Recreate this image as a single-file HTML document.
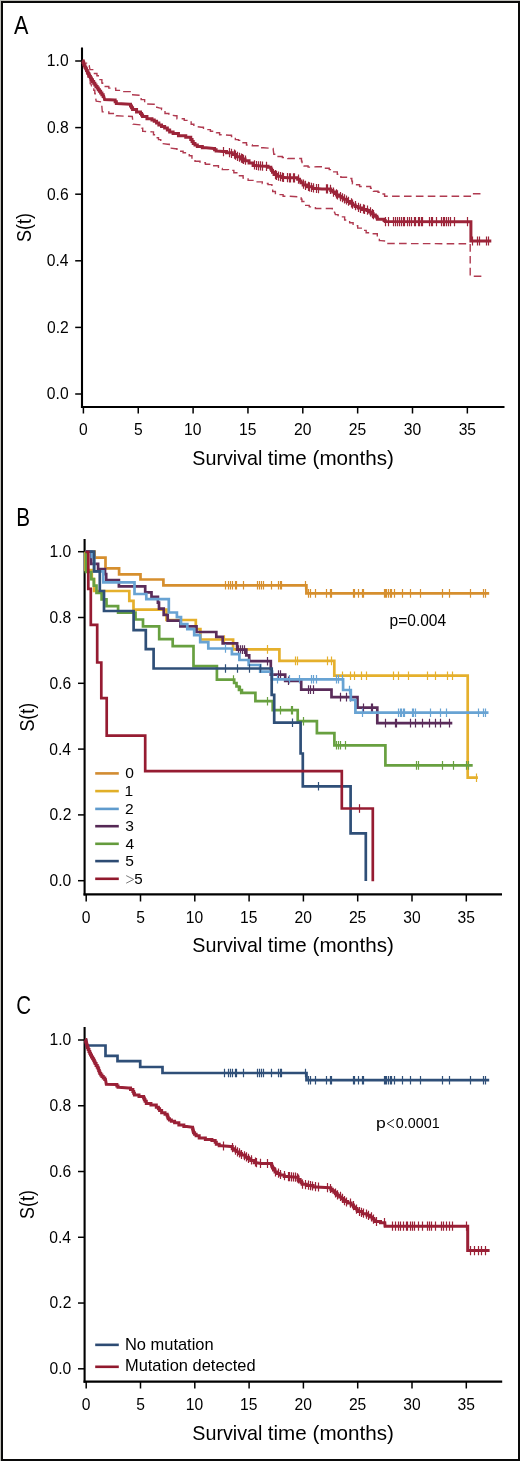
<!DOCTYPE html>
<html><head><meta charset="utf-8"><style>
html,body{margin:0;padding:0;background:#fff;}
body{width:520px;height:1461px;overflow:hidden;}
svg{display:block;will-change:transform;}
text{font-family:"Liberation Sans", sans-serif;fill:#000;}
</style></head><body>
<svg width="520" height="1461" viewBox="0 0 520 1461">
<rect x="0" y="0" width="520" height="1461" fill="#fff"/>
<rect x="0" y="0" width="520" height="1" fill="#bfbfba"/>
<rect x="0" y="0" width="1" height="1461" fill="#bfbfba"/>
<rect x="2" y="2" width="517" height="1458" fill="none" stroke="#0a0a0a" stroke-width="2"/>
<path d="M82.00 47.50 V408.05" stroke="#000" stroke-width="2.1" fill="none"/>
<path d="M80.95 407.00 H504.50" stroke="#000" stroke-width="2.1" fill="none"/>
<path d="M75.20 394.00 H82.00" stroke="#000" stroke-width="1.5" fill="none"/>
<path d="M75.20 327.40 H82.00" stroke="#000" stroke-width="1.5" fill="none"/>
<path d="M75.20 260.80 H82.00" stroke="#000" stroke-width="1.5" fill="none"/>
<path d="M75.20 194.20 H82.00" stroke="#000" stroke-width="1.5" fill="none"/>
<path d="M75.20 127.60 H82.00" stroke="#000" stroke-width="1.5" fill="none"/>
<path d="M75.20 61.00 H82.00" stroke="#000" stroke-width="1.5" fill="none"/>
<path d="M83.40 407.00 V413.50" stroke="#000" stroke-width="1.5" fill="none"/>
<path d="M138.25 407.00 V413.50" stroke="#000" stroke-width="1.5" fill="none"/>
<path d="M193.10 407.00 V413.50" stroke="#000" stroke-width="1.5" fill="none"/>
<path d="M247.95 407.00 V413.50" stroke="#000" stroke-width="1.5" fill="none"/>
<path d="M302.80 407.00 V413.50" stroke="#000" stroke-width="1.5" fill="none"/>
<path d="M357.65 407.00 V413.50" stroke="#000" stroke-width="1.5" fill="none"/>
<path d="M412.50 407.00 V413.50" stroke="#000" stroke-width="1.5" fill="none"/>
<path d="M467.35 407.00 V413.50" stroke="#000" stroke-width="1.5" fill="none"/>
<path d="M84.60 539.00 V895.45" stroke="#000" stroke-width="2.1" fill="none"/>
<path d="M83.55 894.40 H502.00" stroke="#000" stroke-width="2.1" fill="none"/>
<path d="M78.00 880.70 H84.60" stroke="#000" stroke-width="1.5" fill="none"/>
<path d="M78.00 814.90 H84.60" stroke="#000" stroke-width="1.5" fill="none"/>
<path d="M78.00 749.10 H84.60" stroke="#000" stroke-width="1.5" fill="none"/>
<path d="M78.00 683.30 H84.60" stroke="#000" stroke-width="1.5" fill="none"/>
<path d="M78.00 617.50 H84.60" stroke="#000" stroke-width="1.5" fill="none"/>
<path d="M78.00 551.70 H84.60" stroke="#000" stroke-width="1.5" fill="none"/>
<path d="M86.20 894.40 V901.50" stroke="#000" stroke-width="1.5" fill="none"/>
<path d="M140.50 894.40 V901.50" stroke="#000" stroke-width="1.5" fill="none"/>
<path d="M194.80 894.40 V901.50" stroke="#000" stroke-width="1.5" fill="none"/>
<path d="M249.10 894.40 V901.50" stroke="#000" stroke-width="1.5" fill="none"/>
<path d="M303.40 894.40 V901.50" stroke="#000" stroke-width="1.5" fill="none"/>
<path d="M357.70 894.40 V901.50" stroke="#000" stroke-width="1.5" fill="none"/>
<path d="M412.00 894.40 V901.50" stroke="#000" stroke-width="1.5" fill="none"/>
<path d="M466.30 894.40 V901.50" stroke="#000" stroke-width="1.5" fill="none"/>
<path d="M84.60 1027.10 V1382.65" stroke="#000" stroke-width="2.1" fill="none"/>
<path d="M83.55 1381.60 H502.20" stroke="#000" stroke-width="2.1" fill="none"/>
<path d="M78.00 1368.80 H84.60" stroke="#000" stroke-width="1.5" fill="none"/>
<path d="M78.00 1303.04 H84.60" stroke="#000" stroke-width="1.5" fill="none"/>
<path d="M78.00 1237.28 H84.60" stroke="#000" stroke-width="1.5" fill="none"/>
<path d="M78.00 1171.52 H84.60" stroke="#000" stroke-width="1.5" fill="none"/>
<path d="M78.00 1105.76 H84.60" stroke="#000" stroke-width="1.5" fill="none"/>
<path d="M78.00 1040.00 H84.60" stroke="#000" stroke-width="1.5" fill="none"/>
<path d="M86.20 1381.60 V1388.50" stroke="#000" stroke-width="1.5" fill="none"/>
<path d="M140.50 1381.60 V1388.50" stroke="#000" stroke-width="1.5" fill="none"/>
<path d="M194.80 1381.60 V1388.50" stroke="#000" stroke-width="1.5" fill="none"/>
<path d="M249.10 1381.60 V1388.50" stroke="#000" stroke-width="1.5" fill="none"/>
<path d="M303.40 1381.60 V1388.50" stroke="#000" stroke-width="1.5" fill="none"/>
<path d="M357.70 1381.60 V1388.50" stroke="#000" stroke-width="1.5" fill="none"/>
<path d="M412.00 1381.60 V1388.50" stroke="#000" stroke-width="1.5" fill="none"/>
<path d="M466.30 1381.60 V1388.50" stroke="#000" stroke-width="1.5" fill="none"/>
<path d="M95.2 773.40 H118.8" stroke="#d28c32" stroke-width="2.6" fill="none"/>
<path d="M95.2 791.10 H118.8" stroke="#e1af28" stroke-width="2.6" fill="none"/>
<path d="M95.2 808.90 H118.8" stroke="#5f9bcd" stroke-width="2.6" fill="none"/>
<path d="M95.2 826.20 H118.8" stroke="#552855" stroke-width="2.6" fill="none"/>
<path d="M95.2 843.80 H118.8" stroke="#649b3c" stroke-width="2.6" fill="none"/>
<path d="M95.2 861.10 H118.8" stroke="#2d4b73" stroke-width="2.6" fill="none"/>
<path d="M95.2 878.80 H118.8" stroke="#91192d" stroke-width="2.6" fill="none"/>
<path d="M126.2 875.60 L133.7 879.40 L126.2 883.20" stroke="#6a6a6a" stroke-width="0.9" fill="none"/>
<path d="M394.0 1119.4 L387.2 1123.6 L394.0 1127.7" stroke="#222" stroke-width="1.0" fill="none"/>
<path d="M95.2 1344.85 H118.8" stroke="#2d4b73" stroke-width="2.6" fill="none"/>
<path d="M95.2 1366.8 H118.8" stroke="#91192d" stroke-width="2.6" fill="none"/>
<g fill="none" stroke="#9c2439">
<path d="M82.30 60.40H84.03V63.10H87.47V65.80H89.20L90.00 69.60H92.70V73.50H95.40H96.95V75.80H98.50H100.00V79.60H101.50H101.88V83.05H102.62V86.50H103.00H108.80V88.10H114.60H115.75V90.40H116.90H123.85V91.60H130.80H131.55V94.70H132.30L139.20 95.30H141.15V99.60H143.10H144.65V103.90H146.20L153.80 104.20H155.35V107.30H156.90L160.00 108.10H161.55V109.60H163.10H165.00V113.50H166.90H168.85V115.00H170.80L175.40 115.80H176.95V118.80H178.50H184.25V120.40H190.00H191.15V124.20H192.30H193.85V126.50H195.40L201.50 127.30H203.45V129.60H205.40H210.40V131.20H215.40H216.55V132.70H217.70H219.60V134.70H221.50L229.20 135.30H231.50V136.50H233.80H235.35V139.60H236.90H238.45V140.40H240.00H241.90V142.70H243.80H246.50V145.00H249.20H252.30V145.80H255.40H259.25V147.80H263.10L273.10 148.40L273.80 154.20H276.15V156.50H278.50H282.35V157.50H286.20H287.90V158.50H289.60L301.20 158.50H301.48V161.10H302.02V163.70H302.30H304.05V166.00H305.80H308.10V167.10H310.40L316.90 166.80H322.30V168.30H327.70H329.25V169.60H330.80H332.70V171.90H334.60H337.30V174.20H340.00H340.85V177.30H341.70L346.90 177.30H349.20V178.50H351.50H351.80V181.10H352.40V183.70H352.70H355.00V184.80H357.30H359.60V186.50H361.90L368.80 186.50H370.55V188.30H372.30H373.45V191.20H374.60H378.05V192.30H381.50H382.10V194.00H382.70H384.60V196.20H386.50L471.20 196.30L471.20 193.80L484.60 193.80" stroke="#b03a50" stroke-width="1.4" stroke-dasharray="7.6 4.3"/>
<path d="M83.10 62.70H83.62V65.27H84.65V67.83H85.68V70.40H86.20H86.78V73.68H87.92V76.95H89.08V80.22H90.22V83.50H90.80L91.50 85.80H92.28V88.10H93.82V90.40H94.60H94.80V93.45H95.20V96.50H95.40L96.20 101.20L101.50 101.90L102.30 111.90H108.85V113.50H115.40H116.15V115.80H116.90L132.30 116.50L133.10 124.20L141.50 125.00H141.90V128.10H142.70V131.20H143.10L152.30 131.90H153.48V134.80H155.82V137.70H157.00H158.50V139.60H160.00H160.75V143.50H161.50L167.70 144.20H169.25V148.10H170.80L175.40 148.80H176.95V151.20H178.50H183.10V152.70H187.70H189.25V155.80H190.80H191.95V159.60H193.10H195.00V161.20H196.90H200.00V162.70H203.10H205.40V164.20H207.70H212.30V165.80H216.90H218.45V168.50H220.00H222.30V169.60H224.60H228.45V170.40H232.30H233.85V172.70H235.40H237.70V175.80H240.00H243.10V178.10H246.20H248.10V180.40H250.00H255.00V181.90H260.00H262.30V183.50H264.60H268.05V184.60H271.50H271.90V188.05H272.70V191.50H273.10H275.40V194.60H277.70H283.10V196.20H288.50L300.80 196.90H301.18V199.20H301.93V201.50H302.30H303.85V205.40H305.40H309.25V206.90H313.10H315.40V208.50H317.70L330.00 208.50H332.30V212.30H334.60L335.40 214.60H338.10V216.90H340.80H344.65V220.00H348.50H349.65V222.70H350.80H353.10V225.80H355.40H357.70V228.10H360.00H362.30V230.40H364.60H366.15V232.70H367.70H368.45V233.70H369.20L376.70 233.70H377.30V237.70H377.90H379.35V240.60H380.80L386.50 241.20H387.95V243.50H389.40L470.20 243.80L470.20 276.20L484.60 276.20" stroke="#b03a50" stroke-width="1.4" stroke-dasharray="7.6 4.3"/>
<path d="M82.80 61.00H83.10V62.60H83.70V64.20H84.30V65.80H84.60H84.99V67.33H85.76V68.85H86.54V70.38H87.31V71.90H87.70H88.09V73.45H88.86V75.00H89.64V76.55H90.41V78.10H90.80H91.38V79.82H92.53V81.55H93.67V83.28H94.83V85.00H95.40H95.98V86.55H97.12V88.10H98.28V89.65H99.42V91.20H100.00H100.63V92.97H101.90V94.73H103.17V96.50H103.80L104.60 99.60L114.60 100.10H115.17V101.80H116.33V103.50H116.90L130.00 104.20H130.52V106.00H131.55V107.80H132.58V109.60H133.10H136.55V111.90H140.00H140.52V113.43H141.55V114.97H142.58V116.50H143.10H146.95V118.80H150.80H151.95V120.00H154.25V121.20H155.40H156.55V123.10H158.85V125.00H160.00H161.55V126.55H164.65V128.10H166.20H167.35V130.00H169.65V131.90H170.80H173.10V133.50H175.40H178.45V135.80H181.50H185.75V137.30H190.00H190.75V139.60H191.50H192.07V141.55H193.23V143.50H193.80H194.98V145.00H197.32V146.50H198.50H202.35V147.80H206.20L213.80 148.50H214.58V149.75H216.12V151.00H216.90L223.10 151.50H226.55V152.70H230.00H232.30V154.40H234.60H236.35V156.70H238.10H240.40V159.00H242.70H245.00V160.80H247.30H249.05V163.10H250.80H253.10V165.40H255.40L261.20 166.00L265.80 166.30H268.10V167.20H270.40H270.82V168.90H271.65V170.60H272.48V172.30H272.90H274.05V174.60H275.20H277.20V176.30H279.20H281.50V177.50H283.80L288.50 177.80L296.50 177.80H297.65V179.20H298.80H299.52V180.95H300.98V182.70H301.70H303.15V185.00H304.60H306.90V186.70H309.20H312.70V188.50H316.20L321.90 189.00L329.60 188.90H330.75V190.60H331.90H332.77V192.05H334.52V193.50H335.40H336.55V194.90H338.85V196.30H340.00H341.15V197.75H343.45V199.20H344.60H346.90V201.50H349.20H350.35V203.25H352.65V205.00H353.80H355.25V206.45H358.15V207.90H359.60H362.50V209.60H365.40H366.95V210.60H368.50H369.35V212.05H371.05V213.50H371.90H373.05V214.90H375.35V216.30H376.50H376.80V217.75H377.40V219.20H377.70L383.50 219.20H384.07V220.40H385.23V221.60H385.80L470.90 221.70L470.90 241.00L491.30 241.00" stroke-width="3.0"/>
<path d="M223.5 147.0V156.2M229.5 148.0V157.2M231.5 148.7V157.9M234.5 149.6V158.8M235.5 150.6V159.8M237.5 151.7V160.9M239.5 152.7V161.8M241.5 153.6V162.8M242.5 154.1V163.3M243.5 154.8V164.0M245.5 155.5V164.7M254.5 160.2V169.4M256.5 160.9V170.1M258.5 161.2V170.4M260.5 161.3V170.5M262.5 161.5V170.7M266.5 161.8V171.0M275.5 170.0V179.2M276.5 170.7V179.9M278.5 171.5V180.7M280.5 172.0V181.2M282.5 172.5V181.7M283.5 172.9V182.1M287.5 173.1V182.3M289.5 173.2V182.4M290.5 173.2V182.4M293.5 173.2V182.4M294.5 173.2V182.4M298.5 174.6V183.8M303.5 179.5V188.7M305.5 180.8V190.0M308.5 181.7V190.9M309.5 182.3V191.5M311.5 182.7V191.9M313.5 183.2V192.4M316.5 183.9V193.1M318.5 184.1V193.3M326.5 184.3V193.5M327.5 184.3V193.5M330.5 184.7V193.9M333.5 187.5V196.7M336.5 189.3V198.5M337.5 190.3V199.5M340.5 192.1V201.3M342.5 193.2V202.3M344.5 194.2V203.4M346.5 195.4V204.6M348.5 196.7V205.8M351.5 198.3V207.5M352.5 199.6V208.8M355.5 201.0V210.2M358.5 202.8V211.9M360.5 203.7V212.9M363.5 204.3V213.5M364.5 204.8V214.0M367.5 205.5V214.7M370.5 207.3V216.5M372.5 209.1V218.3M373.5 210.0V219.2M385.5 217.0V226.2M388.5 217.0V226.2M393.5 217.0V226.2M395.5 217.0V226.2M397.5 217.0V226.2M399.5 217.0V226.2M401.5 217.0V226.2M403.5 217.0V226.2M404.5 217.0V226.2M407.5 217.0V226.2M409.5 217.0V226.2M411.5 217.0V226.2M414.5 217.0V226.2M415.5 217.0V226.2M418.5 217.0V226.2M419.5 217.0V226.2M421.5 217.0V226.2M422.5 217.0V226.2M429.5 217.1V226.3M431.5 217.1V226.3M432.5 217.1V226.3M436.5 217.1V226.3M441.5 217.1V226.3M443.5 217.1V226.3M444.5 217.1V226.3M446.5 217.1V226.3M448.5 217.1V226.3M450.5 217.1V226.3M454.5 217.1V226.3M467.5 217.1V226.3M472.5 236.4V245.6M477.5 236.4V245.6M479.5 236.4V245.6M486.5 236.4V245.6M488.5 236.4V245.6" stroke-width="1.2"/>
</g>
<path d="M85.6 551.7H94.5V557.7H105.5V568.4H119.1V574.4H140.5V579.5H163.4V585.3H306.4V593.4H489.2" stroke="#d68f2e" stroke-width="2.7" fill="none" stroke-linejoin="miter"/>
<path d="M225.5 581.0V589.6M228.5 581.0V589.6M230.5 581.0V589.6M232.5 581.0V589.6M235.5 581.0V589.6M236.5 581.0V589.6M243.5 581.0V589.6M257.5 581.0V589.6M259.5 581.0V589.6M261.5 581.0V589.6M263.5 581.0V589.6M271.5 581.0V589.6M278.5 581.0V589.6M280.5 581.0V589.6M281.5 581.0V589.6M305.5 581.0V589.6M308.5 589.1V597.7M310.5 589.1V597.7M315.5 589.1V597.7M326.5 589.1V597.7M330.5 589.1V597.7M331.5 589.1V597.7M353.5 589.1V597.7M354.5 589.1V597.7M358.5 589.1V597.7M362.5 589.1V597.7M363.5 589.1V597.7M384.5 589.1V597.7M385.5 589.1V597.7M386.5 589.1V597.7M388.5 589.1V597.7M390.5 589.1V597.7M391.5 589.1V597.7M394.5 589.1V597.7M402.5 589.1V597.7M410.5 589.1V597.7M420.5 589.1V597.7M442.5 589.1V597.7M449.5 589.1V597.7M470.5 589.1V597.7M483.5 589.1V597.7M485.5 589.1V597.7" stroke="#d68f2e" stroke-width="1.2" fill="none"/>
<path d="M85.4 551.7H85.4V570.0H91.8V579.0H94.1V591.0H129.3V600.8H133.5V609.7H166.5V620.0H195.8V629.2H200.4V639.5H233.1V649.4H279.4V660.9H334.3V675.7H467.7V777.7H477.9" stroke="#e5b02c" stroke-width="2.7" fill="none" stroke-linejoin="miter"/>
<path d="M224.5 635.2V643.8M267.5 645.1V653.7M295.5 656.6V665.2M297.5 656.6V665.2M327.5 656.6V665.2M331.5 656.6V665.2M342.5 671.4V680.0M350.5 671.4V680.0M354.5 671.4V680.0M361.5 671.4V680.0M366.5 671.4V680.0M393.5 671.4V680.0M398.5 671.4V680.0M408.5 671.4V680.0M427.5 671.4V680.0M435.5 671.4V680.0M447.5 671.4V680.0M452.5 671.4V680.0M476.5 773.4V782.0" stroke="#e5b02c" stroke-width="1.2" fill="none"/>
<path d="M85.6 551.7H91.2V563.8H98.1V569.0H105.0V574.2H106.2V580.0H118.9V586.3H145.2V592.3H151.5V596.9H157.9V602.7H159.0V608.7H163.7V614.8H167.7V620.6H180.4V626.3H196.5V632.0H216.3V636.9H222.7V643.3H237.1V649.6H246.3V655.4H249.2V661.2H270.8V674.6H285.2V680.8H301.2V689.6H331.5V697.1H357.5V707.7H377.3V723.1H452.3" stroke="#5a2c5a" stroke-width="2.7" fill="none" stroke-linejoin="miter"/>
<path d="M238.5 645.3V653.9M240.5 645.3V653.9M242.5 645.3V653.9M244.5 645.3V653.9M267.5 656.9V665.5M278.5 670.3V678.9M280.5 670.3V678.9M288.5 676.5V685.1M308.5 685.3V693.9M310.5 685.3V693.9M313.5 685.3V693.9M340.5 692.8V701.4M346.5 692.8V701.4M350.5 692.8V701.4M363.5 703.4V712.0M371.5 703.4V712.0M372.5 703.4V712.0M385.5 718.8V727.4M395.5 718.8V727.4M396.5 718.8V727.4M410.5 718.8V727.4M415.5 718.8V727.4M422.5 718.8V727.4M429.5 718.8V727.4M435.5 718.8V727.4M440.5 718.8V727.4M449.5 718.8V727.4" stroke="#5a2c5a" stroke-width="1.2" fill="none"/>
<path d="M85.6 551.7H91.8V557.0H94.1V571.3H103.3V582.3H134.5V594.0H146.3V599.2H168.8V612.5H176.9V617.1H181.0V624.0H187.3V629.2H194.2V635.2H200.2V642.1H208.3V648.5H231.9V654.2H239.4V660.0H248.7V665.0H260.2V671.7H272.0V679.3H343.1V690.0H350.8V700.0H355.4V712.7H488.5" stroke="#68a3d3" stroke-width="2.7" fill="none" stroke-linejoin="miter"/>
<path d="M225.5 644.2V652.8M277.5 675.0V683.6M289.5 675.0V683.6M299.5 675.0V683.6M311.5 675.0V683.6M313.5 675.0V683.6M316.5 675.0V683.6M336.5 675.0V683.6M338.5 675.0V683.6M342.5 675.0V683.6M349.5 685.7V694.3M362.5 708.4V717.0M398.5 708.4V717.0M400.5 708.4V717.0M401.5 708.4V717.0M403.5 708.4V717.0M404.5 708.4V717.0M412.5 708.4V717.0M413.5 708.4V717.0M415.5 708.4V717.0M430.5 708.4V717.0M440.5 708.4V717.0M446.5 708.4V717.0M478.5 708.4V717.0M483.5 708.4V717.0M485.5 708.4V717.0" stroke="#68a3d3" stroke-width="1.2" fill="none"/>
<path d="M86.0 551.7H86.0V572.0H91.2V579.2H93.8V585.7H96.5V592.9H101.6V599.4H106.5V606.2H118.1V612.7H135.5V619.5H143.0V626.3H159.2V639.2H172.7V646.2H193.5V666.2H216.9V679.6H234.2V683.0H236.5V686.5H239.0V690.0H241.9V692.9H255.4V701.2H272.7V710.2H297.7V721.2H316.9V733.2H334.4V745.3H385.4V765.4H472.7" stroke="#68a040" stroke-width="2.7" fill="none" stroke-linejoin="miter"/>
<path d="M233.5 675.3V683.9M240.5 685.7V694.3M267.5 696.9V705.5M280.5 705.9V714.5M291.5 705.9V714.5M292.5 705.9V714.5M303.5 716.9V725.5M336.5 741.0V749.6M338.5 741.0V749.6M340.5 741.0V749.6M345.5 741.0V749.6M416.5 761.1V769.7M418.5 761.1V769.7M442.5 761.1V769.7M453.5 761.1V769.7M466.5 761.1V769.7M468.5 761.1V769.7" stroke="#68a040" stroke-width="1.2" fill="none"/>
<path d="M85.6 551.7H94.1V571.3H99.8V591.0H104.0V611.0H133.6V630.2H145.8V649.2H153.6V668.5H271.7V694.8H274.2V722.7H300.6V753.5H302.8V786.3H350.6V833.4H365.8V881.0" stroke="#2f4f78" stroke-width="2.7" fill="none" stroke-linejoin="miter"/>
<path d="M225.5 664.2V672.8M237.5 664.2V672.8M249.5 664.2V672.8M260.5 664.2V672.8M292.5 718.4V727.0M318.5 782.0V790.6" stroke="#2f4f78" stroke-width="1.2" fill="none"/>
<path d="M85.6 551.8H88.3V588.8H90.8V624.8H97.2V662.5H101.3V698.1H106.7V735.6H145.2V771.1H341.8V808.5H372.8V881.2" stroke="#961c32" stroke-width="2.7" fill="none" stroke-linejoin="miter"/>
<path d="M359.5 804.2V812.8" stroke="#961c32" stroke-width="1.2" fill="none"/>
<path d="M85.6 1040.0H86.2V1045.5H105.5V1055.9H117.5V1061.2H140.2V1067.0H162.5V1073.0H306.5V1080.2H489.2" stroke="#2f4f78" stroke-width="2.7" fill="none"/>
<path d="M224.5 1068.7V1077.3M228.5 1068.7V1077.3M230.5 1068.7V1077.3M232.5 1068.7V1077.3M235.5 1068.7V1077.3M236.5 1068.7V1077.3M243.5 1068.7V1077.3M257.5 1068.7V1077.3M259.5 1068.7V1077.3M261.5 1068.7V1077.3M263.5 1068.7V1077.3M271.5 1068.7V1077.3M278.5 1068.7V1077.3M280.5 1068.7V1077.3M281.5 1068.7V1077.3M305.5 1068.7V1077.3M308.5 1075.9V1084.5M310.5 1075.9V1084.5M315.5 1075.9V1084.5M326.5 1075.9V1084.5M330.5 1075.9V1084.5M331.5 1075.9V1084.5M353.5 1075.9V1084.5M354.5 1075.9V1084.5M358.5 1075.9V1084.5M362.5 1075.9V1084.5M363.5 1075.9V1084.5M384.5 1075.9V1084.5M385.5 1075.9V1084.5M386.5 1075.9V1084.5M388.5 1075.9V1084.5M390.5 1075.9V1084.5M391.5 1075.9V1084.5M394.5 1075.9V1084.5M402.5 1075.9V1084.5M410.5 1075.9V1084.5M420.5 1075.9V1084.5M442.5 1075.9V1084.5M449.5 1075.9V1084.5M470.5 1075.9V1084.5M483.5 1075.9V1084.5M485.5 1075.9V1084.5" stroke="#2f4f78" stroke-width="1.2" fill="none"/>
<path d="M85.50 1039.60H85.70V1041.15H86.10V1042.70H86.50V1044.25H86.90V1045.80H87.10H87.47V1047.70H88.22V1049.60H88.60H88.98V1051.40H89.75V1053.20H90.52V1055.00H90.90H91.48V1056.90H92.62V1058.80H93.20H93.58V1060.37H94.35V1061.93H95.12V1063.50H95.50H96.08V1065.40H97.22V1067.30H97.80H98.10V1068.85H98.70V1070.40H99.30V1071.95H99.90V1073.50H100.20H100.78V1075.00H101.92V1076.50H102.50H103.25V1078.05H104.75V1079.60H105.50L106.30 1084.20L116.30 1084.50H116.88V1085.90H118.02V1087.30H118.60L128.60 1088.10H130.55V1089.60H132.50H132.88V1091.40H133.65V1093.20H134.42V1095.00H134.80H139.00V1096.50H143.20H143.58V1098.07H144.35V1099.63H145.12V1101.20H145.50H146.30V1103.50H147.10H150.95V1105.00H154.80H156.30V1107.30H157.80H158.40V1108.85H159.60V1110.40H160.20H161.65V1112.70H163.10H165.00V1114.20H166.90H167.17V1115.73H167.70V1117.27H168.23V1118.80H168.50H169.45V1120.00H171.35V1121.20H172.30H174.60V1122.70H176.90H178.85V1125.00H180.80H183.85V1126.50H186.90L192.30 1127.30H192.55V1129.10H193.05V1130.90H193.55V1132.70H193.80H194.58V1134.25H196.12V1135.80H196.90H199.20V1138.10H201.50H205.35V1139.60H209.20H211.90V1140.40H214.60H215.18V1142.30H216.32V1144.20H216.90H219.20V1145.80H221.50L230.80 1146.50H232.30V1148.80H233.80H234.58V1150.15H236.12V1151.50H236.90L238.10 1151.90H239.25V1153.45H241.55V1155.00H242.70H245.00V1157.30H247.30H248.45V1158.85H250.75V1160.40H251.90H254.20V1162.70H256.50L261.20 1163.50L271.20 1163.50H271.45V1165.03H271.95V1166.57H272.45V1168.10H272.70H273.48V1170.00H275.02V1171.90H275.80H277.15V1173.45H279.85V1175.00H281.20H284.25V1176.50H287.30L296.50 1177.30H298.05V1179.60H299.60H300.12V1181.13H301.15V1182.67H302.18V1184.20H302.70H306.35V1185.40H310.00H313.10V1186.90H316.20L330.00 1187.70H330.77V1189.25H332.33V1190.80H333.10H333.88V1192.30H335.43V1193.80H336.20H337.35V1195.35H339.65V1196.90H340.80H341.57V1198.43H343.10V1199.97H344.63V1201.50H345.40H347.70V1203.10H350.00H351.15V1205.00H353.45V1206.90H354.60H355.37V1208.43H356.90V1209.97H358.43V1211.50H359.20H362.30V1213.80H365.40H366.92V1215.35H369.98V1216.90H371.50H372.28V1218.43H373.85V1219.97H375.42V1221.50H376.20H380.50V1222.70H384.80L385.10 1226.20L467.70 1226.20L467.70 1250.60L489.60 1250.60" stroke="#9a2036" stroke-width="3.0" fill="none"/>
<path d="M223.5 1141.4V1150.6M232.5 1143.1V1152.2M235.5 1145.6V1154.8M237.5 1147.2V1156.4M239.5 1148.3V1157.5M241.5 1149.9V1159.1M244.5 1151.2V1160.3M246.5 1152.3V1161.5M248.5 1153.7V1162.9M251.5 1155.3V1164.5M255.5 1157.4V1166.5M256.5 1158.1V1167.3M260.5 1158.8V1168.0M267.5 1158.9V1168.1M275.5 1167.3V1176.5M278.5 1168.6V1177.8M280.5 1169.9V1179.1M284.5 1171.1V1180.3M288.5 1172.0V1181.2M289.5 1172.1V1181.3M291.5 1172.2V1181.4M293.5 1172.4V1181.6M295.5 1172.6V1181.8M297.5 1173.3V1182.5M298.5 1174.4V1183.6M302.5 1179.6V1188.8M305.5 1180.1V1189.3M308.5 1180.6V1189.8M310.5 1181.0V1190.2M312.5 1181.4V1190.6M315.5 1182.1V1191.3M318.5 1182.4V1191.6M327.5 1183.0V1192.2M330.5 1183.9V1193.1M335.5 1188.4V1197.6M337.5 1190.2V1199.4M340.5 1191.8V1201.0M342.5 1193.8V1203.0M344.5 1196.1V1205.3M346.5 1197.4V1206.6M350.5 1198.5V1207.7M353.5 1201.1V1210.3M356.5 1204.6V1213.8M359.5 1206.9V1216.1M361.5 1207.8V1217.0M363.5 1208.6V1217.8M366.5 1209.6V1218.8M368.5 1210.8V1220.0M371.5 1212.3V1221.5M373.5 1214.6V1223.8M376.5 1216.9V1226.1M384.5 1218.1V1227.3M392.5 1221.6V1230.8M395.5 1221.6V1230.8M398.5 1221.6V1230.8M400.5 1221.6V1230.8M403.5 1221.6V1230.8M406.5 1221.6V1230.8M407.5 1221.6V1230.8M410.5 1221.6V1230.8M412.5 1221.6V1230.8M414.5 1221.6V1230.8M418.5 1221.6V1230.8M422.5 1221.6V1230.8M427.5 1221.6V1230.8M429.5 1221.6V1230.8M431.5 1221.6V1230.8M435.5 1221.6V1230.8M441.5 1221.6V1230.8M443.5 1221.6V1230.8M446.5 1221.6V1230.8M449.5 1221.6V1230.8M452.5 1221.6V1230.8M466.5 1221.6V1230.8M470.5 1246.0V1255.2M474.5 1246.0V1255.2M478.5 1246.0V1255.2M481.5 1246.0V1255.2M485.5 1246.0V1255.2" stroke="#9a2036" stroke-width="1.2" fill="none"/>
<text x="46.84" y="399.40" font-size="16.4" textLength="21.77" lengthAdjust="spacingAndGlyphs">0.0</text>
<text x="47.02" y="332.80" font-size="16.4" textLength="21.77" lengthAdjust="spacingAndGlyphs">0.2</text>
<text x="46.69" y="266.20" font-size="16.4" textLength="21.77" lengthAdjust="spacingAndGlyphs">0.4</text>
<text x="46.92" y="199.60" font-size="16.4" textLength="21.77" lengthAdjust="spacingAndGlyphs">0.6</text>
<text x="46.91" y="133.00" font-size="16.4" textLength="21.77" lengthAdjust="spacingAndGlyphs">0.8</text>
<text x="46.84" y="66.40" font-size="16.4" textLength="21.77" lengthAdjust="spacingAndGlyphs">1.0</text>
<text x="79.04" y="434.90" font-size="16.4" textLength="8.71" lengthAdjust="spacingAndGlyphs">0</text>
<text x="133.91" y="434.90" font-size="16.4" textLength="8.71" lengthAdjust="spacingAndGlyphs">5</text>
<text x="184.10" y="434.90" font-size="16.4" textLength="17.42" lengthAdjust="spacingAndGlyphs">10</text>
<text x="238.97" y="434.90" font-size="16.4" textLength="17.42" lengthAdjust="spacingAndGlyphs">15</text>
<text x="294.00" y="434.90" font-size="16.4" textLength="17.42" lengthAdjust="spacingAndGlyphs">20</text>
<text x="348.87" y="434.90" font-size="16.4" textLength="17.42" lengthAdjust="spacingAndGlyphs">25</text>
<text x="403.80" y="434.90" font-size="16.4" textLength="17.42" lengthAdjust="spacingAndGlyphs">30</text>
<text x="458.67" y="434.90" font-size="16.4" textLength="17.42" lengthAdjust="spacingAndGlyphs">35</text>
<text x="192.30" y="464.80" font-size="20.9" textLength="70.11" lengthAdjust="spacingAndGlyphs">Survival</text>
<text x="267.79" y="464.80" font-size="20.9" textLength="38.93" lengthAdjust="spacingAndGlyphs">time</text>
<text x="312.52" y="464.80" font-size="20.9" textLength="81.46" lengthAdjust="spacingAndGlyphs">(months)</text>
<g transform="translate(31.10,241.20) rotate(-90)"><text x="-0.82" y="0" font-size="19.8" textLength="28.93" lengthAdjust="spacingAndGlyphs">S(t)</text></g>
<text x="49.44" y="886.10" font-size="16.4" textLength="21.77" lengthAdjust="spacingAndGlyphs">0.0</text>
<text x="49.62" y="820.30" font-size="16.4" textLength="21.77" lengthAdjust="spacingAndGlyphs">0.2</text>
<text x="49.29" y="754.50" font-size="16.4" textLength="21.77" lengthAdjust="spacingAndGlyphs">0.4</text>
<text x="49.52" y="688.70" font-size="16.4" textLength="21.77" lengthAdjust="spacingAndGlyphs">0.6</text>
<text x="49.51" y="622.90" font-size="16.4" textLength="21.77" lengthAdjust="spacingAndGlyphs">0.8</text>
<text x="49.44" y="557.10" font-size="16.4" textLength="21.77" lengthAdjust="spacingAndGlyphs">1.0</text>
<text x="81.84" y="923.10" font-size="16.4" textLength="8.71" lengthAdjust="spacingAndGlyphs">0</text>
<text x="136.16" y="923.10" font-size="16.4" textLength="8.71" lengthAdjust="spacingAndGlyphs">5</text>
<text x="185.80" y="923.10" font-size="16.4" textLength="17.42" lengthAdjust="spacingAndGlyphs">10</text>
<text x="240.12" y="923.10" font-size="16.4" textLength="17.42" lengthAdjust="spacingAndGlyphs">15</text>
<text x="294.60" y="923.10" font-size="16.4" textLength="17.42" lengthAdjust="spacingAndGlyphs">20</text>
<text x="348.92" y="923.10" font-size="16.4" textLength="17.42" lengthAdjust="spacingAndGlyphs">25</text>
<text x="403.30" y="923.10" font-size="16.4" textLength="17.42" lengthAdjust="spacingAndGlyphs">30</text>
<text x="457.62" y="923.10" font-size="16.4" textLength="17.42" lengthAdjust="spacingAndGlyphs">35</text>
<text x="192.30" y="952.30" font-size="20.9" textLength="70.11" lengthAdjust="spacingAndGlyphs">Survival</text>
<text x="267.79" y="952.30" font-size="20.9" textLength="38.93" lengthAdjust="spacingAndGlyphs">time</text>
<text x="312.52" y="952.30" font-size="20.9" textLength="81.46" lengthAdjust="spacingAndGlyphs">(months)</text>
<g transform="translate(34.10,730.80) rotate(-90)"><text x="-0.82" y="0" font-size="19.8" textLength="28.93" lengthAdjust="spacingAndGlyphs">S(t)</text></g>
<text x="49.44" y="1374.20" font-size="16.4" textLength="21.77" lengthAdjust="spacingAndGlyphs">0.0</text>
<text x="49.62" y="1308.44" font-size="16.4" textLength="21.77" lengthAdjust="spacingAndGlyphs">0.2</text>
<text x="49.29" y="1242.68" font-size="16.4" textLength="21.77" lengthAdjust="spacingAndGlyphs">0.4</text>
<text x="49.52" y="1176.92" font-size="16.4" textLength="21.77" lengthAdjust="spacingAndGlyphs">0.6</text>
<text x="49.51" y="1111.16" font-size="16.4" textLength="21.77" lengthAdjust="spacingAndGlyphs">0.8</text>
<text x="49.44" y="1045.40" font-size="16.4" textLength="21.77" lengthAdjust="spacingAndGlyphs">1.0</text>
<text x="81.84" y="1410.10" font-size="16.4" textLength="8.71" lengthAdjust="spacingAndGlyphs">0</text>
<text x="136.16" y="1410.10" font-size="16.4" textLength="8.71" lengthAdjust="spacingAndGlyphs">5</text>
<text x="185.80" y="1410.10" font-size="16.4" textLength="17.42" lengthAdjust="spacingAndGlyphs">10</text>
<text x="240.12" y="1410.10" font-size="16.4" textLength="17.42" lengthAdjust="spacingAndGlyphs">15</text>
<text x="294.60" y="1410.10" font-size="16.4" textLength="17.42" lengthAdjust="spacingAndGlyphs">20</text>
<text x="348.92" y="1410.10" font-size="16.4" textLength="17.42" lengthAdjust="spacingAndGlyphs">25</text>
<text x="403.30" y="1410.10" font-size="16.4" textLength="17.42" lengthAdjust="spacingAndGlyphs">30</text>
<text x="457.62" y="1410.10" font-size="16.4" textLength="17.42" lengthAdjust="spacingAndGlyphs">35</text>
<text x="192.30" y="1439.80" font-size="20.9" textLength="70.11" lengthAdjust="spacingAndGlyphs">Survival</text>
<text x="267.79" y="1439.80" font-size="20.9" textLength="38.93" lengthAdjust="spacingAndGlyphs">time</text>
<text x="312.52" y="1439.80" font-size="20.9" textLength="81.46" lengthAdjust="spacingAndGlyphs">(months)</text>
<g transform="translate(34.10,1218.10) rotate(-90)"><text x="-0.81" y="0" font-size="19.8" textLength="28.82" lengthAdjust="spacingAndGlyphs">S(t)</text></g>
<text x="13.96" y="33.80" font-size="25.4" textLength="14.38" lengthAdjust="spacingAndGlyphs">A</text>
<text x="16.30" y="525.70" font-size="25.2" textLength="13.79" lengthAdjust="spacingAndGlyphs">B</text>
<text x="16.16" y="1013.50" font-size="25.4" textLength="14.82" lengthAdjust="spacingAndGlyphs">C</text>
<text x="125.19" y="778.40" font-size="14.5" textLength="8.68" lengthAdjust="spacingAndGlyphs">0</text>
<text x="124.61" y="796.10" font-size="14.5" textLength="8.68" lengthAdjust="spacingAndGlyphs">1</text>
<text x="125.02" y="813.90" font-size="14.5" textLength="8.68" lengthAdjust="spacingAndGlyphs">2</text>
<text x="125.21" y="831.20" font-size="14.5" textLength="8.68" lengthAdjust="spacingAndGlyphs">3</text>
<text x="125.44" y="848.80" font-size="14.5" textLength="8.68" lengthAdjust="spacingAndGlyphs">4</text>
<text x="125.18" y="866.10" font-size="14.5" textLength="8.68" lengthAdjust="spacingAndGlyphs">5</text>
<text x="134.39" y="883.80" font-size="14.5" textLength="8.45" lengthAdjust="spacingAndGlyphs">5</text>
<text x="389.50" y="625.80" font-size="15.6" textLength="56.66" lengthAdjust="spacingAndGlyphs">p=0.004</text>
<text x="375.97" y="1128.00" font-size="15.4" textLength="9.77" lengthAdjust="spacingAndGlyphs">p</text>
<text x="395.84" y="1128.00" font-size="15.4" textLength="43.76" lengthAdjust="spacingAndGlyphs">0.0001</text>
<text x="124.95" y="1349.60" font-size="16.2" textLength="88.72" lengthAdjust="spacingAndGlyphs">No mutation</text>
<text x="124.95" y="1371.20" font-size="16.2" textLength="130.71" lengthAdjust="spacingAndGlyphs">Mutation detected</text>
</svg>
</body></html>
